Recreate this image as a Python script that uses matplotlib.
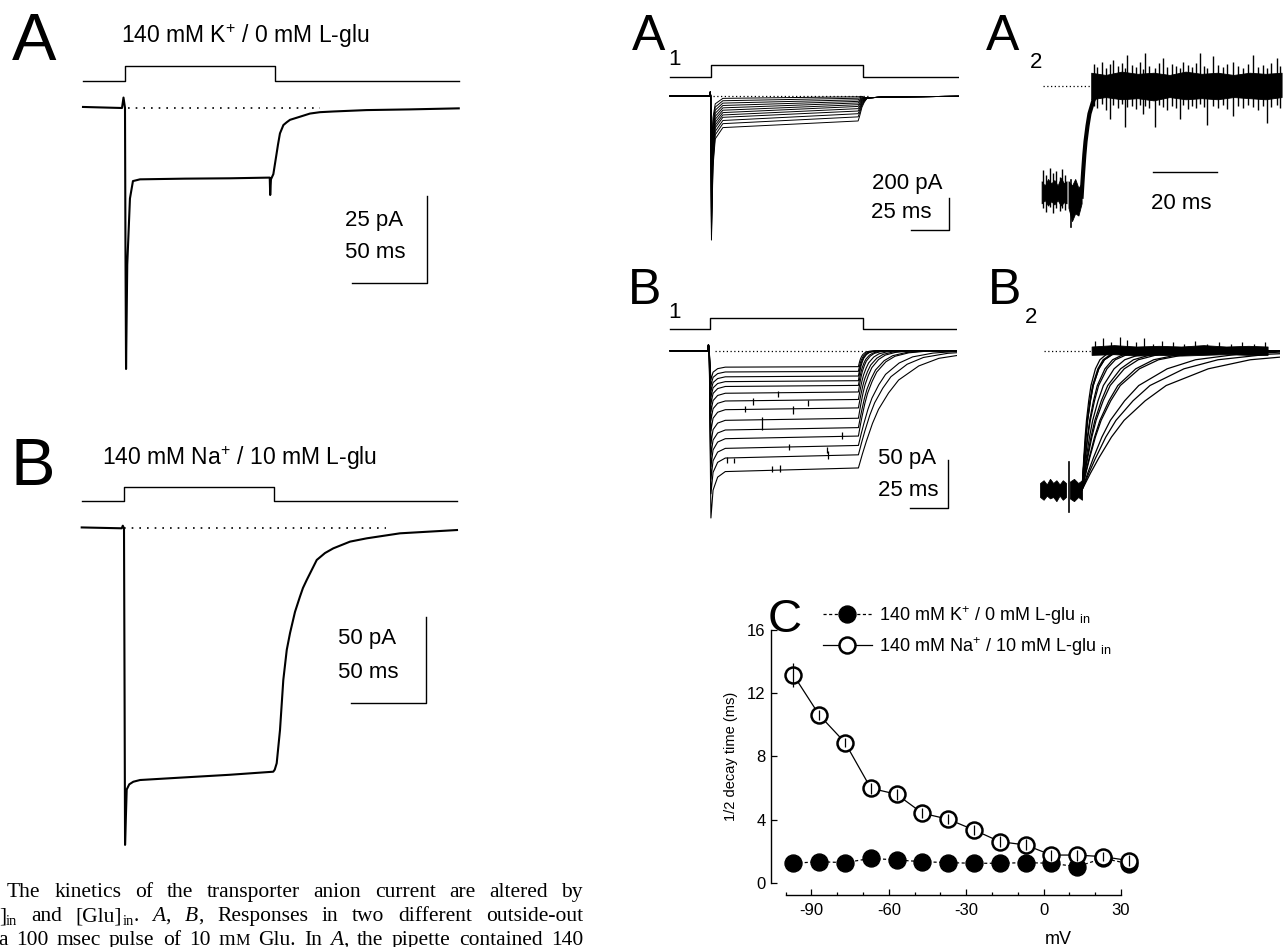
import matplotlib
matplotlib.use("Agg")
import matplotlib.pyplot as plt
from matplotlib.lines import Line2D

W, H = 1288, 947

plt.rcParams["font.family"] = ["Liberation Sans", "DejaVu Sans"]
plt.rcParams["mathtext.fontset"] = "custom"
plt.rcParams["mathtext.rm"] = "Liberation Sans"
plt.rcParams["mathtext.sf"] = "Liberation Sans"
plt.rcParams["mathtext.it"] = "Liberation Sans:italic"
plt.rcParams["axes.unicode_minus"] = False

# ---------------- data ----------------
pulse_on, pulse_off = 0, 100          # 100 ms glutamate pulse

# A: 140 mM K+ / 0 mM L-glu (ms, pA)
a_t = [-28, -2, -1, 0, 0.3, 0.7, 1.5, 3.3, 5.3, 10, 40, 70, 96.5, 96.8, 97.3, 98.9,
       101.1, 102, 103.3, 105.6, 107.8, 110, 116.7, 123.3, 130, 138.9, 161, 190, 222.5]
a_i = [0.3, 0, 3, 0, -40, -75, -45, -26, -21, -20.5, -20.3, -20.2, -20, -25, -20.5, -19,
       -13, -10.5, -7.3, -4.9, -4.1, -3.4, -2.5, -1.6, -1.2, -1.0, -0.6, -0.4, -0.1]

# B: 140 mM Na+ / 10 mM L-glu (ms, pA)
b_t = [-28.2, -1.5, -0.8, 0, 0.4, 0.7, 1.8, 3.5, 6.2, 10.7, 40, 70, 99.5, 100.5, 101.8,
       104, 106.2, 108.5, 110.7, 114, 117.3, 119.3, 121.8, 128.5, 134, 139.5, 150.7, 161.8,
       184, 222]
b_i = [0.5, 0, 1.5, 0, -100, -183, -151, -148, -146.5, -145.5, -144, -142.5, -140.7,
       -139.5, -135.8, -116.6, -87.7, -70.3, -60.5, -48.3, -39.5, -34.5, -29.9, -18.3,
       -14.3, -11.6, -7.7, -5.8, -2.9, -1.0]

# A1 family (pA): transient peak, level after the peak, level at end of pulse
a1_peak = [-360, -430, -490, -550, -610, -660, -710, -760, -800, -840, -880, -912]
a1_start = [-15, -30, -45, -60, -75, -90, -105, -120, -135, -155, -175, -200]
a1_end = [-5, -14, -24, -34, -44, -55, -66, -80, -95, -112, -132, -158]

# B1 family (pA)
b1_peak = [-30, -36, -42, -48, -55, -63, -72, -83, -96, -108, -120, -133, -148, -173]
b1_level = [-17, -22, -27, -32, -37, -44, -52, -61, -72, -82, -91, -101, -111, -125]
# brief channel openings visible on the B1 records (ms, pA from, pA to)
b1_ev_t = [44.2, 28.3, 22.9, 54, 64.3, 33.8, 86.1, 51.8, 76.3, 77.3, 10.9, 15.7, 40.3, 45.8]
b1_ev_a = [-42, -49, -57, -57, -51, -69, -84, -97, -100, -104, -110, -111, -119, -118]
b1_ev_b = [-48, -56, -63, -65, -57, -82, -91, -103, -106, -112, -116, -116, -125, -125]

# C: half decay time of the tail current vs. membrane potential
mv = [-97, -87, -77, -67, -57, -47, -37, -27, -17, -7, 3, 13, 23, 33]
tau_k = [1.23, 1.33, 1.27, 1.54, 1.44, 1.33, 1.27, 1.23, 1.23, 1.27, 1.23, 1.01, 1.55, 1.2]
tau_na = [13.15, 10.62, 8.87, 5.98, 5.6, 4.4, 4.02, 3.34, 2.6, 2.39, 1.75, 1.75, 1.65, 1.4]
tau_na_err = [0.75, 0.3, 0.3, 0.35, 0.35, 0.3, 0.3, 0.3, 0.35, 0.35, 0.35, 0.35, 0.3, 0.35]

tail_h = [0, 0.2, 0.4, 0.7, 1.0, 1.5, 2.0, 3.0, 4.0, 5.5, 8.0]
tail_v = [1.0, 0.88, 0.77, 0.62, 0.5, 0.36, 0.25, 0.13, 0.065, 0.025, 0.0]

# A2 noise (normalised current): core band and single spikes
a2_pre_t = [-12, -11, -10, -9, -8, -7, -6, -5, -4.2]
a2_pre_up = [-0.86, -0.9, -0.84, -0.88, -0.85, -0.9, -0.83, -0.88, -0.86]
a2_pre_lo = [-1.06, -1.03, -1.08, -1.04, -1.07, -1.03, -1.08, -1.05, -1.06]
a2_pre_sp_t = [-11.5, -10.6, -9.4, -8.5, -7.6, -6.4, -5.5, -4.6]
a2_pre_sp_a = [-0.76, -0.8, -0.74, -0.79, -0.77, -0.82, -0.75, -0.8]
a2_pre_sp_b = [-1.1, -1.14, -1.09, -1.15, -1.1, -1.13, -1.1, -1.12]
a2_art_t = [-3.6, -2.5, -1.5, -0.5, 0.5]
a2_art_up = [-0.86, -0.9, -0.84, -0.92, -0.88]
a2_art_lo = [-1.1, -1.22, -1.15, -1.17, -1.06]
a2_core_t = [3.5, 8, 13, 18, 23, 28, 33, 38, 43, 48, 53, 58, 63]
a2_core_up = [0.12, 0.1, 0.13, 0.11, 0.12, 0.1, 0.13, 0.11, 0.12, 0.1, 0.12, 0.11, 0.12]
a2_core_lo = [-0.12, -0.1, -0.12, -0.11, -0.13, -0.1, -0.12, -0.11, -0.12, -0.1, -0.11,
              -0.12, -0.1]
a2_sp_t = [4.5, 5.2, 6.8, 8.1, 9.4, 10.4, 11.8, 13.1, 14.1, 14.6, 16.2, 17.5, 18.9, 19.8,
           20.3, 21.7, 23.4, 24.6, 26.0, 27.3, 28.9, 30.1, 31.2, 32.3, 33.8, 35.0, 36.4,
           37.5, 38.7, 39.6, 41.7, 43.0, 44.6, 45.9, 47.9, 49.5, 51.0, 52.6, 54.2, 55.7,
           57.1, 58.3, 59.8, 61.5, 62.6]
a2_sp_a = [0.2, 0.17, 0.22, 0.16, 0.2, 0.235, 0.18, 0.21, 0.16, 0.28, 0.19, 0.17, 0.22,
           0.15, 0.295, 0.18, 0.16, 0.21, 0.25, 0.17, 0.2, 0.18, 0.16, 0.22, 0.19, 0.17,
           0.21, 0.295, 0.18, 0.16, 0.27, 0.19, 0.17, 0.2, 0.22, 0.18, 0.16, 0.2, 0.28,
           0.17, 0.19, 0.16, 0.21, 0.25, 0.18]
a2_sp_b = [-0.18, -0.2, -0.16, -0.22, -0.3, -0.17, -0.2, -0.16, -0.37, -0.19, -0.18,
           -0.21, -0.17, -0.25, -0.18, -0.2, -0.37, -0.17, -0.19, -0.22, -0.18, -0.2,
           -0.3, -0.17, -0.21, -0.18, -0.2, -0.16, -0.19, -0.35, -0.18, -0.2, -0.17,
           -0.21, -0.27, -0.18, -0.2, -0.17, -0.19, -0.22, -0.18, -0.33, -0.19, -0.17,
           -0.2]

# B2 noise (normalised current)
b2_pre_t = [-13.1, -12, -11, -10, -9, -8, -7, -6, -5]
b2_pre_up = [-0.95, -0.93, -0.96, -0.92, -0.95, -0.93, -0.96, -0.93, -0.95]
b2_pre_lo = [-1.05, -1.07, -1.04, -1.06, -1.05, -1.08, -1.04, -1.07, -1.05]
b2_art_t = [-3.8, -2.5, -1.2, 0]
b2_art_up = [-0.94, -0.92, -0.95, -0.93]
b2_art_lo = [-1.06, -1.08, -1.05, -1.07]
b2_core_t = [3, 10, 17, 24, 31, 38, 45, 52, 58]
b2_core_up = [0.03, 0.04, 0.03, 0.035, 0.03, 0.04, 0.03, 0.035, 0.03]
b2_core_lo = [-0.03, -0.025, -0.035, -0.03, -0.035, -0.03, -0.025, -0.03, -0.03]
b2_sp_t = [4.2, 6.5, 9.1, 11.8, 14.0, 16.9, 19.5, 22.3, 25.0, 28.4, 31.9, 35.2, 39.0,
           42.8, 46.5, 50.1, 53.7, 57.2]
b2_sp_a = [0.07, 0.09, 0.06, 0.1, 0.08, 0.06, 0.09, 0.05, 0.07, 0.06, 0.05, 0.07, 0.05,
           0.06, 0.05, 0.06, 0.05, 0.06]

caption = [
    "The kinetics of the transporter anion current are altered by",
    "]|_in and [Glu]|_in|. /A|, /B|, Responses in two different outside-out",
    "a 100 msec pulse of 10 m|~M Glu. In /A|, the pipette contained 140",
]

# ---------------- drawing ----------------
fig = plt.figure(figsize=(W / 100, H / 100), dpi=100)


def frame(box, origin, scale):
    # box in pixels (left, top, right, bottom); origin = pixel of t=0, I=0
    l, t, r, b = box
    ox, oy = origin
    sx, sy = scale
    ax = fig.add_axes([l / W, 1 - b / H, (r - l) / W, (b - t) / H])
    ax.set_xlim((l - ox) / sx, (r - ox) / sx)
    ax.set_ylim((oy - b) / sy, (oy - t) / sy)
    ax.axis("off")
    return ax, (lambda x, y: ((x - ox) / sx, (oy - y) / sy))


def stimulus(ax, conv, t0, t1, y_base, y_top):
    lo = conv(0, y_base)[1]
    hi = conv(0, y_top)[1]
    ax.plot([t0, pulse_on, pulse_on, pulse_off, pulse_off, t1], [lo, lo, hi, hi, lo, lo],
            color="k", lw=1.0)


def scalebar(ax, conv, x, y, dx, dy):
    cx, cy = conv(x, y)
    xs = [cx - dx, cx] + ([cx] if dy else [])
    ys = [cy, cy] + ([cy + dy] if dy else [])
    ax.plot(xs, ys, color="k", lw=1.0)


def label(x, y, s, size, **kw):
    fig.text(x / W, 1 - y / H, s, fontsize=size, va="baseline", **kw)


title_sz = 16.5
bar_sz = 16

# ---- A ----
ax, cv = frame((78, 50, 465, 385), (125, 108), (1.5, 3.48))
stimulus(ax, cv, a_t[0], a_t[-1], 80.7, 65.7)
ax.plot(a_t, a_i, color="k", lw=1.5)
ax.plot([2, 130], [0, 0], color="k", lw=1.2, ls=(0, (1, 3.6)))
scalebar(ax, cv, 427, 283, 50, 25)
label(12, 60, "A", 48)
label(121, 43, "140 mM K$^{+}$ / 0 mM L-glu", title_sz)
label(345, 226, "25 pA", bar_sz)
label(345, 258, "50 ms", bar_sz)

# ---- B ----
ax, cv = frame((76, 470, 462, 860), (124, 528.3), (1.5, 1.73))
stimulus(ax, cv, b_t[0], b_t[-1], 501, 486.7)
ax.plot(b_t, b_i, color="k", lw=1.5)
ax.plot([0, 175], [0, 0], color="k", lw=1.2, ls=(0, (1, 3.6)))
scalebar(ax, cv, 426, 703.3, 50, 50)
label(10, 485, "B", 48)
label(102, 465, "140 mM Na$^{+}$ / 10 mM L-glu", title_sz)
label(338, 644, "50 pA", bar_sz)
label(338, 678, "50 ms", bar_sz)

# ---- A1 ----
ax, cv = frame((665, 55, 959, 245), (710.7, 96), (1.52, 0.158))
stimulus(ax, cv, -26.8, 163.3, 76.7, 65)
a1_tt = [-26.8, -0.6, -0.3, 0, 0.5, 1.5, 3, 8, 97, 98, 99.5, 101, 103, 115, 163.3]
for pk, s, e in zip(a1_peak, a1_start, a1_end):
    ii = [0, 0, 25, 0, pk, s + 0.35 * (pk - s), s + 0.1 * (pk - s), s, e,
          0.8 * e, 0.45 * e, 0.2 * e - 8, -12, -6, -2]
    ax.plot(a1_tt, ii, color="k", lw=0.7)
ax.plot([1.5, 103.5], [0, 0], color="k", lw=0.9, ls=(0, (1, 2)))
scalebar(ax, cv, 949.3, 230, 25, 200)
label(632, 50, "A", 36)
label(668, 65, "1", 16)
label(872, 189, "200 pA", bar_sz)
label(871, 218, "25 ms", bar_sz)

# ---- B1 ----
ax, cv = frame((665, 310, 957, 525), (710, 350.7), (1.53, 0.967))
stimulus(ax, cv, -26.1, 161.2, 329.3, 317.7)
b1_on_t = [-26.1, -1.5, -1, -0.5, 0.6, 2, 5, 10, 97]
for pk, lv, half in zip(b1_peak, b1_level, tau_na[::-1]):
    tt = b1_on_t + [97 + half * h for h in tail_h] + [170]
    ii = ([0, 0, 6, 0, pk, lv + 0.4 * (pk - lv), lv + 0.12 * (pk - lv), lv, 0.97 * lv]
          + [0.97 * lv * v for v in tail_v] + [0])
    ax.plot(tt, ii, color="k", lw=0.8)
ax.vlines(b1_ev_t, b1_ev_a, b1_ev_b, color="k", lw=0.9)
ax.plot([3, 103], [0, 0], color="k", lw=0.9, ls=(0, (1, 2)))
scalebar(ax, cv, 948.3, 508.3, 25, 50)
label(628, 304, "B", 36)
label(668, 318, "1", 16)
label(878, 464, "50 pA", bar_sz)
label(878, 496, "25 ms", bar_sz)

# ---- A2 (tail, K+ internal, normalised) ----
ax, cv = frame((1035, 40, 1288, 240), (1080, 86), (3.2, 110.7))
ax.fill_between(a2_pre_t, a2_pre_lo, a2_pre_up, color="k", lw=0.6)
ax.vlines(a2_pre_sp_t, a2_pre_sp_a, a2_pre_sp_b, color="k", lw=1.0)
ax.fill_between(a2_art_t, a2_art_lo, a2_art_up, color="k", lw=0.6)
ax.plot([-2.8, -2.8], [-0.85, -1.27], color="k", lw=1.2)
ax.plot([0.5 + tau_k[0] * h for h in tail_h], [-v for v in tail_v], color="k", lw=3)
ax.fill_between(a2_core_t, a2_core_lo, a2_core_up, color="k", lw=0.6)
ax.vlines(a2_sp_t, a2_sp_b, a2_sp_a, color="k", lw=1.0)
ax.plot([-11.5, 3], [0, 0], color="k", lw=0.9, ls=(0, (1, 2)))
scalebar(ax, cv, 1216.7, 172.3, 20, 0)
label(986, 50, "A", 36)
label(1030, 68, "2", 16)
label(1181.7, 209, "20 ms", bar_sz, ha="center")

# ---- B2 (tails, Na+/glu internal, normalised) ----
ax, cv = frame((1035, 300, 1280, 525), (1082, 350.7), (3.2, 139.3))
ax.fill_between(b2_pre_t, b2_pre_lo, b2_pre_up, color="k", lw=0.6)
ax.plot([-4, -4], [-0.8, -1.16], color="k", lw=1.2)
ax.fill_between(b2_art_t, b2_art_lo, b2_art_up, color="k", lw=0.6)
for half in tau_na:
    ax.plot([half * h for h in tail_h] + [70], [-v for v in tail_v] + [0], color="k", lw=0.9)
ax.fill_between(b2_core_t, b2_core_lo, b2_core_up, color="k", lw=0.6)
ax.vlines(b2_sp_t, 0, b2_sp_a, color="k", lw=0.9)
ax.plot([-12, 3], [0, 0], color="k", lw=0.9, ls=(0, (1, 2)))
label(988, 304, "B", 36)
label(1025, 323, "2", 16)

# ---- C ----
axc = fig.add_axes([785.7 / W, 1 - 882.7 / H, 335.3 / W, 252.7 / H])
axc.plot(mv, tau_k, color="k", lw=0.9, ls=(0, (2.5, 2)), marker="o", ms=12.2,
         mfc="k", mec="k", zorder=3, clip_on=False)
axc.plot(mv, tau_na, color="k", lw=0.9, ls="-", marker="o", ms=11.5,
         mfc="white", mec="k", mew=1.8, zorder=4, clip_on=False)
axc.errorbar(mv, tau_na, yerr=tau_na_err, fmt="none", ecolor="k", elinewidth=0.9,
             capsize=0, zorder=5, clip_on=False)
axc.set_xlim(-100, 30)
axc.set_ylim(0, 16)
for s in ("top", "right"):
    axc.spines[s].set_visible(False)
axc.spines["left"].set_position(("outward", 10.6))
axc.spines["bottom"].set_position(("outward", 8.9))
axc.spines["left"].set_linewidth(1.0)
axc.spines["bottom"].set_linewidth(1.0)
axc.set_xticks([-90, -60, -30, 0, 30])
axc.set_xticks(list(range(-100, 31, 10)), minor=True)
axc.set_yticks([0, 4, 8, 12, 16])
axc.tick_params(axis="x", which="major", direction="in", length=4, width=0.9, pad=6,
                labelsize=12)
axc.tick_params(axis="x", which="minor", direction="in", length=2.5, width=0.9)
axc.tick_params(axis="y", direction="in", length=4, width=0.9, pad=4, labelsize=12)
axc.set_xlabel("mV", fontsize=13)
axc.xaxis.set_label_coords(0.812, -0.19)
axc.set_ylabel("1/2 decay time (ms)", fontsize=10.5)
axc.yaxis.set_label_coords(-0.142, 0.5)

handles = [
    Line2D([], [], color="k", lw=0.9, ls=(0, (2.5, 2)), marker="o", ms=12.2, mfc="k", mec="k"),
    Line2D([], [], color="k", lw=0.9, ls="-", marker="o", ms=11.5, mfc="white", mec="k", mew=1.8),
]
labels = ["140 mM K$^{+}$ / 0 mM L-glu $_{\\mathsf{in}}$",
          "140 mM Na$^{+}$ / 10 mM L-glu $_{\\mathsf{in}}$"]
axc.legend(handles, labels, loc="upper left", bbox_to_anchor=(823 / W, 1 - 604 / H),
           bbox_transform=fig.transFigure, frameon=False, borderpad=0, borderaxespad=0,
           handlelength=2.7, handletextpad=0.4, labelspacing=0.45, fontsize=13)
label(768, 632, "C", 34)

# ---- caption fragment (justified serif text) ----
renderer = fig.canvas.get_renderer()


def caption_line(line, x0, x1, base_y, size):
    words = []
    for w in line.split(" "):
        segs = []
        for s in w.split("|"):
            kw = dict(fontsize=size, family="Liberation Serif")
            dy = 0
            if s.startswith("_"):
                s, dy = s[1:], 4
                kw["fontsize"] = size * 0.68
            elif s.startswith("/"):
                s = s[1:]
                kw["style"] = "italic"
            elif s.startswith("~"):
                s = s[1:]
                kw["fontsize"] = size * 0.75
            t = fig.text(0, 0, s, va="baseline", ha="left", **kw)
            segs.append((t, dy, t.get_window_extent(renderer).width))
        words.append(segs)
    widths = [sum(sg[2] for sg in w) for w in words]
    gap = (x1 - x0 - sum(widths)) / (len(words) - 1)
    x = x0
    for w, wd in zip(words, widths):
        xx = x
        for t, dy, sw in w:
            t.set_position((xx / W, 1 - (base_y + dy) / H))
            xx += sw
        x += wd + gap


caption_line(caption[0], 7, 583, 897, 15.5)
caption_line(caption[1], -1, 583, 921, 15.5)
caption_line(caption[2], -2, 583, 945, 15.5)

fig.savefig("out.png", dpi=100, facecolor="white")
